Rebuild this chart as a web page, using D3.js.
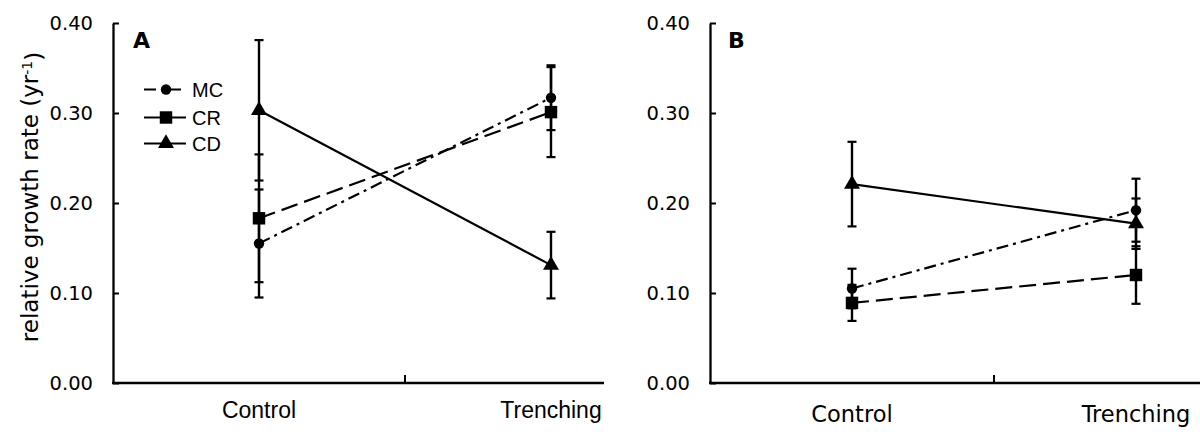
<!DOCTYPE html>
<html>
<head>
<meta charset="utf-8">
<script src="https://cdn.jsdelivr.net/npm/d3@7"></script>
<style>
  html, body { margin: 0; padding: 0; background: #fff; }
  svg { display: block; }
</style>
</head>
<body>
<svg id="chart" width="1200" height="435"></svg>
<script>
// ---- data ----
const categories = ["Control", "Trenching"];
const seriesNames = ["MC", "CR", "CD"];
const yTicks = [0, 0.1, 0.2, 0.3, 0.4];

// Panel A
const aMC = [0.155, 0.317];
const aMCerr = [0.060, 0.036];
const aCR = [0.183, 0.301];
const aCRerr = [0.071, 0.050];
const aCD = [0.303, 0.131];
const aCDerr = [0.078, 0.037];

// Panel B
const bMC = [0.105, 0.192];
const bMCerr = [0.022, 0.035];
const bCR = [0.089, 0.120];
const bCRerr = [0.020, 0.032];
const bCD = [0.221, 0.177];
const bCDerr = [0.047, 0.028];

// ---- drawing ----
const svg = d3.select("#chart");
const y = d3.scaleLinear().domain([0, 0.4]).range([383, 23]);

const styles = {
  MC: { dash: "12,5,3,5", symbol: d3.symbolCircle, size: 85 },
  CR: { dash: "17,7", symbol: d3.symbolSquare, size: 155 },
  CD: { dash: null, symbol: d3.symbolTriangle, size: 110 }
};

function panel(opts) {
  const g = svg.append("g");
  const x = d3.scaleBand().domain(categories).range(opts.range);
  const cx = c => x(c) + x.bandwidth() / 2;

  // y axis
  const yAxis = d3.axisLeft(y).tickValues(yTicks).tickFormat(d3.format(".2f"))
    .tickSize(-6).tickSizeOuter(0).tickPadding(20);
  const ya = g.append("g").attr("transform", `translate(${opts.range[0]},0)`).call(yAxis);
  ya.select(".domain").attr("stroke", "#000").attr("stroke-width", 2.3);
  ya.selectAll(".tick line").attr("stroke", "#000").attr("stroke-width", 2);
  ya.selectAll(".tick text").attr("fill", "#000")
    .style("font-family", "DejaVu Sans").style("font-size", "19.5px");

  // x axis line
  g.append("line").attr("x1", opts.range[0] - 1).attr("x2", opts.xEnd)
    .attr("y1", y(0)).attr("y2", y(0)).attr("stroke", "#000").attr("stroke-width", 2.3);
  // middle tick at band boundary
  g.append("line").attr("x1", x(categories[1])).attr("x2", x(categories[1]))
    .attr("y1", y(0)).attr("y2", y(0) - 8).attr("stroke", "#000").attr("stroke-width", 2);
  // category labels
  g.selectAll(".cat").data(categories).join("text")
    .attr("x", d => cx(d)).attr("y", opts.catY)
    .attr("text-anchor", "middle")
    .style("font-family", opts.catFont).style("font-size", opts.catSize)
    .text(d => d);

  // panel letter
  g.append("text").attr("x", opts.letterX).attr("y", 48)
    .style("font-family", "DejaVu Sans").style("font-weight", "bold").style("font-size", "22px")
    .text(opts.letter);

  const series = [
    { name: "MC", v: opts.MC, e: opts.MCerr },
    { name: "CR", v: opts.CR, e: opts.CRerr },
    { name: "CD", v: opts.CD, e: opts.CDerr }
  ];

  const line = d3.line().x((d, i) => cx(categories[i])).y(d => y(d));

  // error bars
  series.forEach(s => {
    s.v.forEach((v, i) => {
      const xx = cx(categories[i]);
      g.append("line").attr("x1", xx).attr("x2", xx)
        .attr("y1", y(v - s.e[i])).attr("y2", y(v + s.e[i]))
        .attr("stroke", "#000").attr("stroke-width", 2.4);
      [v - s.e[i], v + s.e[i]].forEach(w => {
        g.append("line").attr("x1", xx - 4.5).attr("x2", xx + 4.5)
          .attr("y1", y(w)).attr("y2", y(w))
          .attr("stroke", "#000").attr("stroke-width", 2.2);
      });
    });
  });

  // lines
  series.forEach(s => {
    g.append("path").attr("d", line(s.v)).attr("fill", "none")
      .attr("stroke", "#000").attr("stroke-width", 2.2)
      .attr("stroke-dasharray", styles[s.name].dash);
  });

  // markers
  series.forEach(s => {
    s.v.forEach((v, i) => {
      const st = styles[s.name];
      g.append("path").attr("d", d3.symbol().type(st.symbol).size(st.size)())
        .attr("transform", `translate(${cx(categories[i])},${y(v)})`)
        .attr("fill", "#000");
    });
  });

  return g;
}

const gA = panel({
  range: [113, 697], xEnd: 604, letter: "A", letterX: 133,
  catFont: "Liberation Sans", catSize: "23px", catY: 418,
  MC: aMC, MCerr: aMCerr, CR: aCR, CRerr: aCRerr, CD: aCD, CDerr: aCDerr
});
const gB = panel({
  range: [710, 1278], xEnd: 1200, letter: "B", letterX: 728,
  catFont: "DejaVu Sans", catSize: "22.5px", catY: 422,
  MC: bMC, MCerr: bMCerr, CR: bCR, CRerr: bCRerr, CD: bCD, CDerr: bCDerr
});

// legend in panel A
const legY = [89.5, 117.5, 143.5];
seriesNames.forEach((n, i) => {
  const st = styles[n];
  const lg = gA.append("g");
  lg.append("line").attr("x1", 144).attr("x2", 186).attr("y1", legY[i]).attr("y2", legY[i])
    .attr("stroke", "#000").attr("stroke-width", 2.2)
    .attr("stroke-dasharray", n === "MC" ? "12,5,3,5" : null);
  lg.append("path").attr("d", d3.symbol().type(st.symbol).size(st.size)())
    .attr("transform", `translate(166,${legY[i]})`).attr("fill", "#000");
  lg.append("text").attr("x", 192).attr("y", legY[i]).attr("dy", "0.36em")
    .style("font-family", "Liberation Sans").style("font-size", "20px").text(n);
});

// y axis title
const yt = svg.append("text")
  .attr("transform", "translate(38,197) rotate(-90)")
  .attr("text-anchor", "middle")
  .style("font-family", "DejaVu Sans").style("font-size", "23px");
yt.append("tspan").text("relative growth rate (yr");
yt.append("tspan").attr("dy", "-0.45em").style("font-size", "14px").text("-1");
yt.append("tspan").attr("dy", "0.45em").text(")");
</script>
</body>
</html>
